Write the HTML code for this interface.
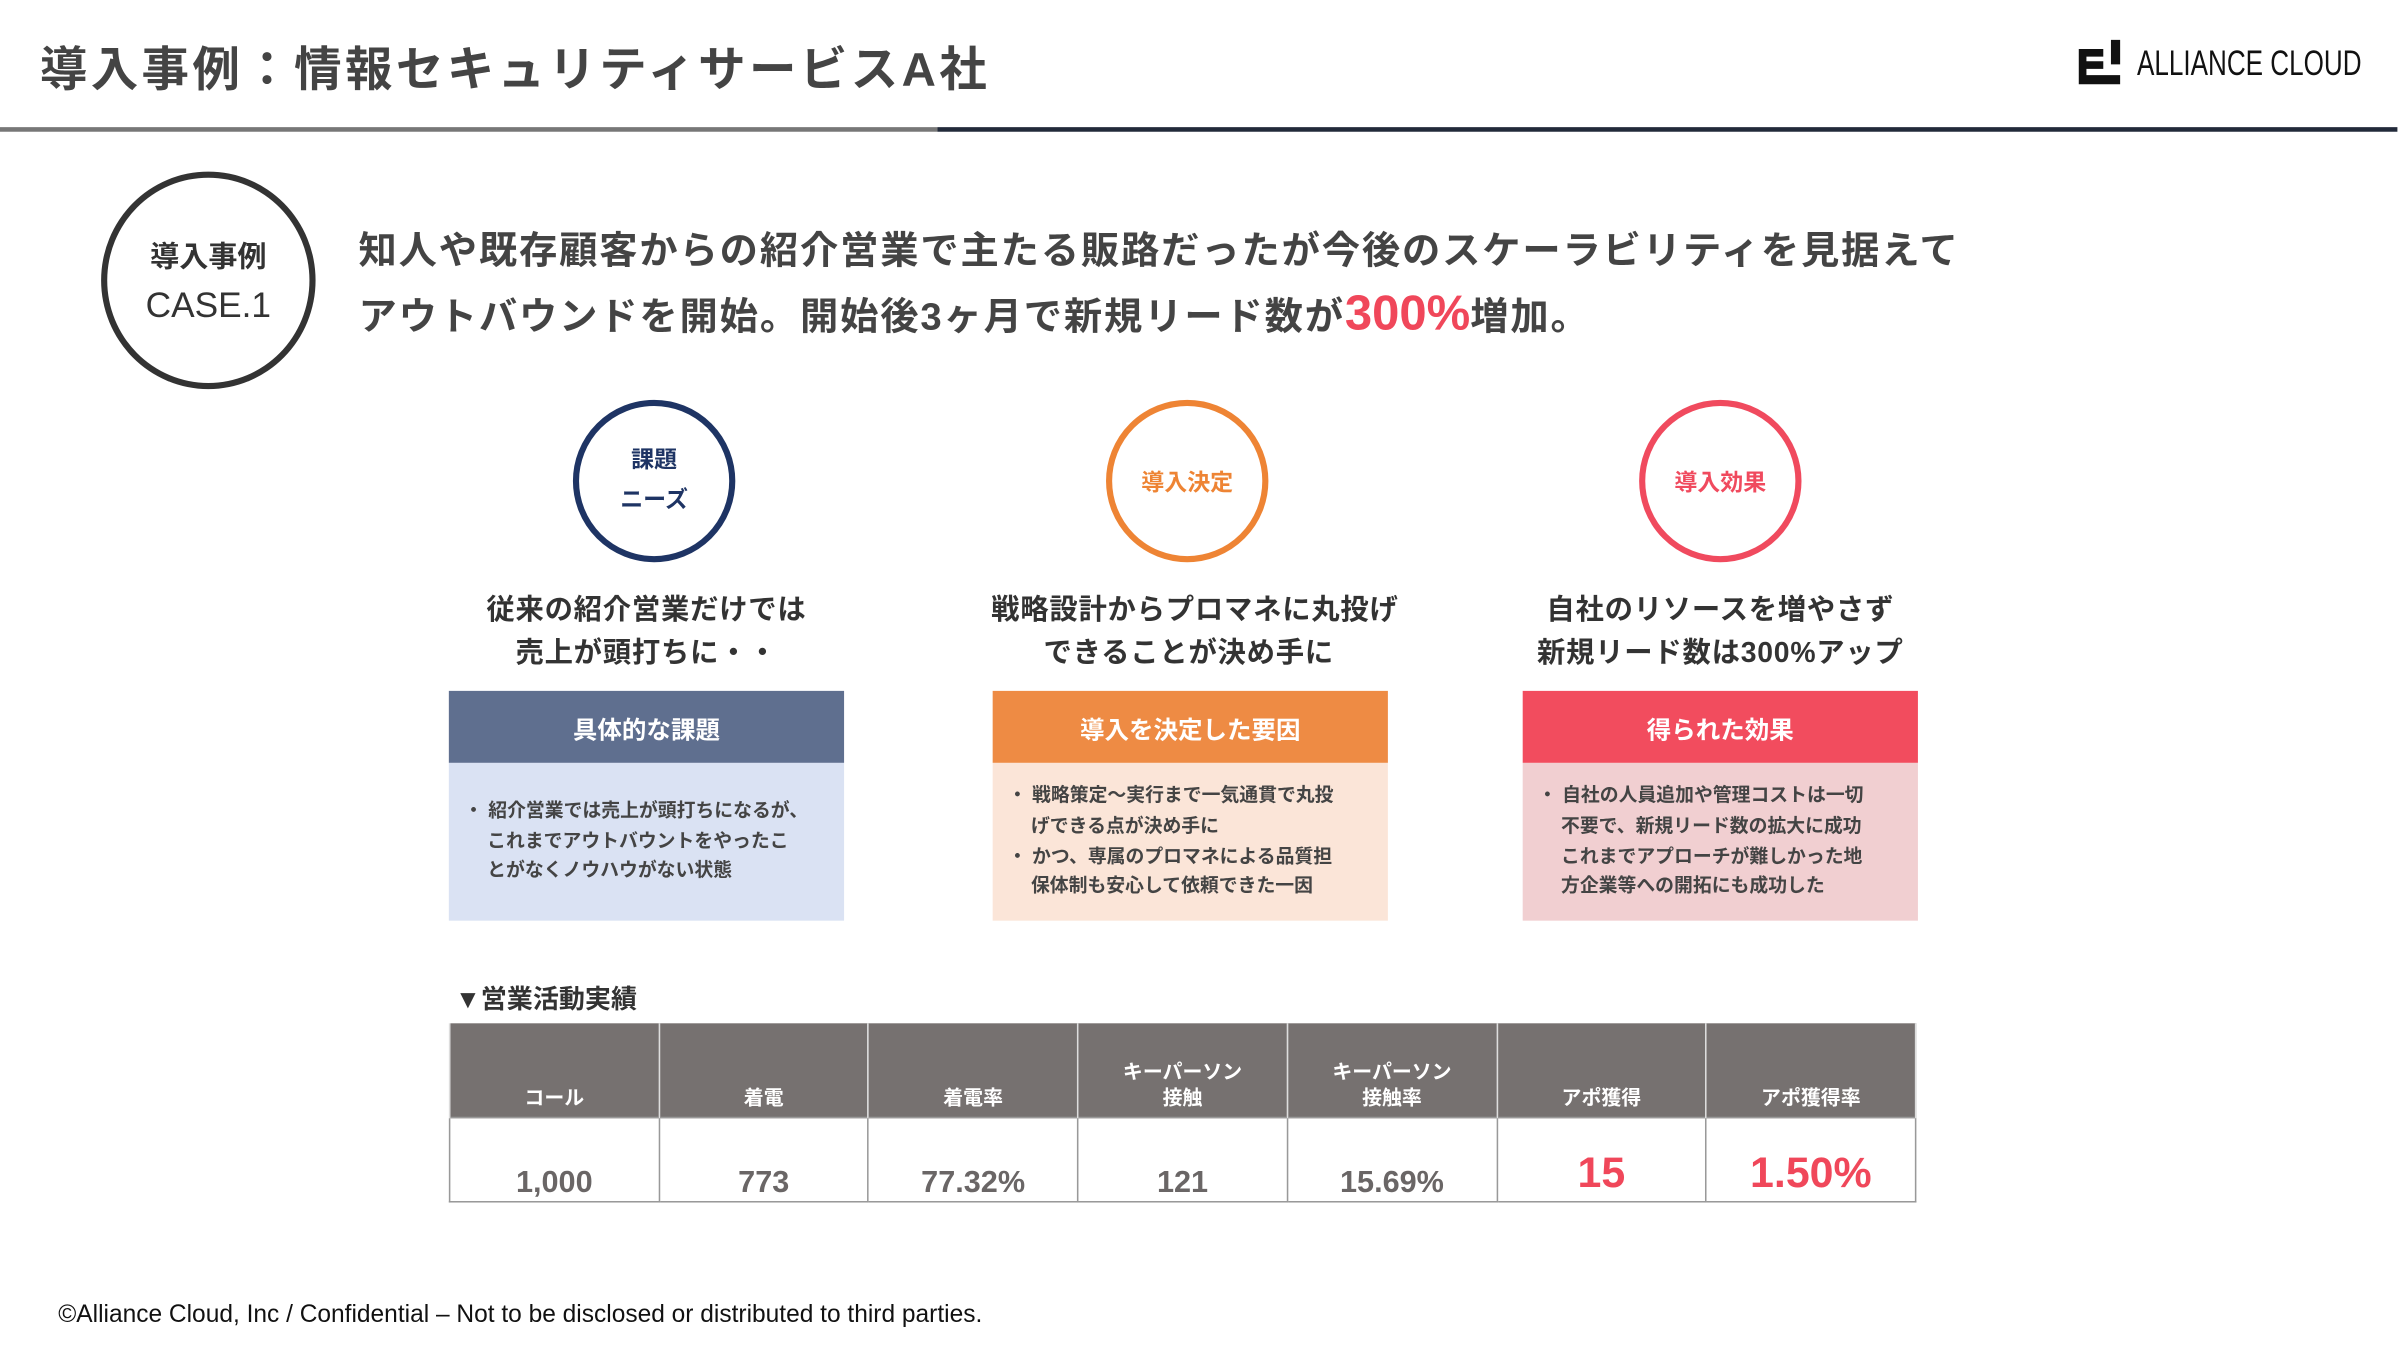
<!DOCTYPE html>
<html><head><meta charset="utf-8"><style>
html,body{margin:0;padding:0;background:#fff;overflow:hidden}
body{width:2402px;height:1350px;position:relative}
#s{position:absolute;left:0;top:0;width:1568px;height:881px;transform:scale(1.53189);transform-origin:0 0;font-family:"Liberation Sans","Noto Sans CJK JP",sans-serif;font-weight:bold;color:#444}
.a{position:absolute;white-space:nowrap}
.circ{position:absolute;border-radius:50%;box-sizing:border-box;display:flex;flex-direction:column;align-items:center;justify-content:center;text-align:center}
.hd{position:absolute;top:451px;height:47px;width:258px;color:#fff;font-size:16px;display:flex;align-items:center;justify-content:center}
.bd{position:absolute;top:498px;height:103px;width:258px;font-size:12.3px;color:#444;box-sizing:border-box;padding:0 0 0 10px;display:flex;flex-direction:column;justify-content:center;line-height:19.6px}
.bd div{padding-left:15px;text-indent:-15px;white-space:nowrap}
.sub{position:absolute;top:384px;width:258px;text-align:center;font-size:18.5px;line-height:28px;color:#333;white-space:nowrap;letter-spacing:.5px}
table{position:absolute;left:293px;top:668px;border-collapse:collapse;width:958px;table-layout:fixed}
th{background:#767170;color:#fff;font-size:13px;height:57px;vertical-align:bottom;padding:0 0 4px;line-height:17px;border-left:1.5px solid #ddd;border-right:1.5px solid #ddd}
td{height:52px;border:1px solid #999;text-align:center;vertical-align:bottom;padding:0;font-size:20px;color:#6a6666;font-weight:bold}
td.r{color:#f0475a;font-size:28px;padding-bottom:2px}
</style></head><body>
<div id="s">
<div class="a" style="left:26px;top:20px;font-size:31px;letter-spacing:2.2px;color:#444">導入事例：情報セキュリティサービスA社</div>
<div class="a" style="left:1354px;top:24px;height:34px">
<svg width="34" height="34" viewBox="0 0 34 34" style="position:absolute;left:0;top:0"><path d="M3 8h16v5H8v3h11v5H8v4h22v6H3z" fill="#111"/><path d="M24 2h6v16h-6z" fill="#111"/></svg>
<span style="position:absolute;left:41px;top:4px;font-size:23px;font-weight:normal;color:#111;display:inline-block;transform:scaleX(.74);transform-origin:0 0">ALLIANCE CLOUD</span></div>
<div class="a" style="left:0;top:83px;width:612px;height:3px;background:#777"></div>
<div class="a" style="left:612px;top:83px;width:953px;height:3px;background:#222a3a"></div>
<div class="circ" style="left:66px;top:112px;width:140px;height:142px;border:4px solid #333;color:#333"><div style="font-size:19px">導入事例</div><div style="font-size:23px;font-weight:normal;margin-top:6px">CASE.1</div></div>
<div class="a" style="left:234px;top:144px;font-size:25px;line-height:40px;letter-spacing:1.2px;color:#444">知人や既存顧客からの紹介営業で主たる販路だったが今後のスケーラビリティを見据えて<br>アウトバウンドを開始。開始後3ヶ月で新規リード数が<span style="color:#f0475a;font-size:32px;letter-spacing:0">300%</span>増加。</div>

<div class="circ" style="left:374px;top:261px;width:106px;height:106px;border:4px solid #1e3464;color:#1e3464;font-size:15px;line-height:26px">課題<br>ニーズ</div>
<div class="circ" style="left:722px;top:261px;width:106px;height:106px;border:4px solid #ee8434;color:#ee8434;font-size:15px">導入決定</div>
<div class="circ" style="left:1070px;top:261px;width:106px;height:106px;border:4px solid #f04a5e;color:#f04a5e;font-size:15px">導入効果</div>

<div class="sub" style="left:293px">従来の紹介営業だけでは<br>売上が頭打ちに・・</div>
<div class="sub" style="left:647px">戦略設計からプロマネに丸投げ<br>できることが決め手に</div>
<div class="sub" style="left:994px">自社のリソースを増やさず<br>新規リード数は300%アップ</div>

<div class="hd" style="left:293px;background:#5f6f8f">具体的な課題</div>
<div class="hd" style="left:648px;background:#ee8b44">導入を決定した要因</div>
<div class="hd" style="left:994px;background:#f24c5e">得られた効果</div>
<div class="bd" style="left:293px;background:#dae2f3"><div>・ 紹介営業では売上が頭打ちになるが、<br>これまでアウトバウントをやったこ<br>とがなくノウハウがない状態</div></div>
<div class="bd" style="left:648px;background:#fbe5d8"><div>・ 戦略策定～実行まで一気通貫で丸投<br>げできる点が決め手に</div><div>・ かつ、専属のプロマネによる品質担<br>保体制も安心して依頼できた一因</div></div>
<div class="bd" style="left:994px;background:#f1cfd1"><div>・ 自社の人員追加や管理コストは一切<br>不要で、新規リード数の拡大に成功<br>これまでアプローチが難しかった地<br>方企業等への開拓にも成功した</div></div>

<div class="a" style="left:297px;top:638px;font-size:17px;color:#333">▼営業活動実績</div>
<table>
<tr><th>コール</th><th>着電</th><th>着電率</th><th>キーパーソン<br>接触</th><th>キーパーソン<br>接触率</th><th>アポ獲得</th><th>アポ獲得率</th></tr>
<tr><td>1,000</td><td>773</td><td>77.32%</td><td>121</td><td>15.69%</td><td class="r">15</td><td class="r">1.50%</td></tr>
</table>
<div class="a" style="left:38px;top:850px;font-size:16px;font-weight:normal;color:#111">©Alliance Cloud, Inc / Confidential – Not to be disclosed or distributed to third parties.</div>
</div>
</body></html>
